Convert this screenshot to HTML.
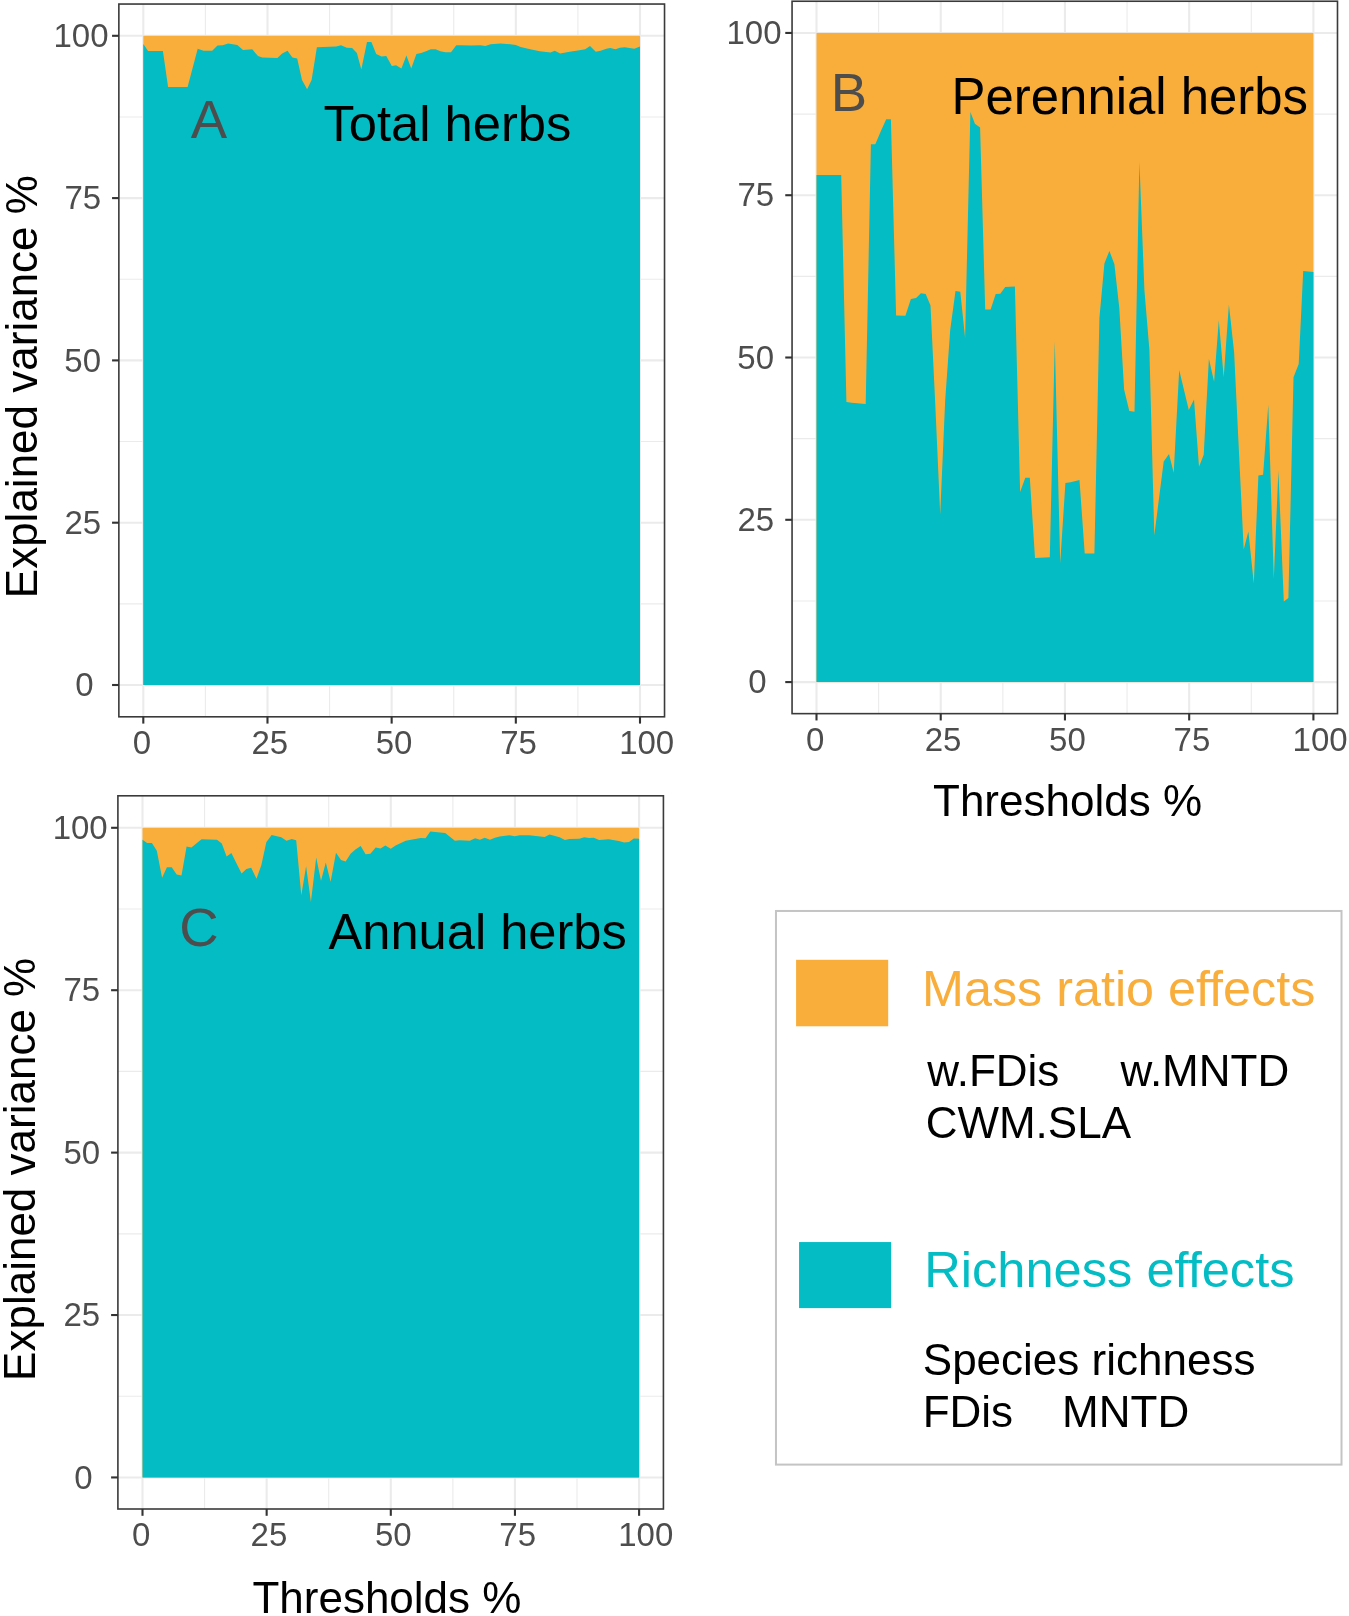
<!DOCTYPE html>
<html><head><meta charset="utf-8"><style>
html,body{margin:0;padding:0;background:#fff;width:1349px;height:1616px;overflow:hidden}
svg{display:block;will-change:transform}
text{font-family:"Liberation Sans",sans-serif}
.tk{font-size:33px;fill:#4D4D4D}
.lt{fill:#4D4D4D}
.lb{fill:#000}
.ti{font-size:44px;fill:#000}

.ls{font-size:44px;fill:#000}
</style></head><body>
<svg width="1349" height="1616" viewBox="0 0 1349 1616">
<rect width="1349" height="1616" fill="#fff"/>
<line x1="118.86" x2="664.53" y1="603.85" y2="603.85" stroke="#EBEBEB" stroke-width="1.1"/>
<line y1="4.04" y2="716.8" x1="205.39" x2="205.39" stroke="#EBEBEB" stroke-width="1.1"/>
<line x1="118.86" x2="664.53" y1="441.55" y2="441.55" stroke="#EBEBEB" stroke-width="1.1"/>
<line y1="4.04" y2="716.8" x1="329.56" x2="329.56" stroke="#EBEBEB" stroke-width="1.1"/>
<line x1="118.86" x2="664.53" y1="279.25" y2="279.25" stroke="#EBEBEB" stroke-width="1.1"/>
<line y1="4.04" y2="716.8" x1="453.74" x2="453.74" stroke="#EBEBEB" stroke-width="1.1"/>
<line x1="118.86" x2="664.53" y1="116.95" y2="116.95" stroke="#EBEBEB" stroke-width="1.1"/>
<line y1="4.04" y2="716.8" x1="577.91" x2="577.91" stroke="#EBEBEB" stroke-width="1.1"/>
<line x1="118.86" x2="664.53" y1="685" y2="685" stroke="#EBEBEB" stroke-width="2.1"/>
<line y1="4.04" y2="716.8" x1="143.3" x2="143.3" stroke="#EBEBEB" stroke-width="2.1"/>
<line x1="118.86" x2="664.53" y1="522.7" y2="522.7" stroke="#EBEBEB" stroke-width="2.1"/>
<line y1="4.04" y2="716.8" x1="267.48" x2="267.48" stroke="#EBEBEB" stroke-width="2.1"/>
<line x1="118.86" x2="664.53" y1="360.4" y2="360.4" stroke="#EBEBEB" stroke-width="2.1"/>
<line y1="4.04" y2="716.8" x1="391.65" x2="391.65" stroke="#EBEBEB" stroke-width="2.1"/>
<line x1="118.86" x2="664.53" y1="198.1" y2="198.1" stroke="#EBEBEB" stroke-width="2.1"/>
<line y1="4.04" y2="716.8" x1="515.83" x2="515.83" stroke="#EBEBEB" stroke-width="2.1"/>
<line x1="118.86" x2="664.53" y1="35.8" y2="35.8" stroke="#EBEBEB" stroke-width="2.1"/>
<line y1="4.04" y2="716.8" x1="640" x2="640" stroke="#EBEBEB" stroke-width="2.1"/>
<rect x="143.3" y="35.8" width="496.7" height="649.2" fill="#F9AE3C"/>
<path d="M143.3,44 L148.1,51 L162.9,51 L168.1,86.9 L187.6,86.9 L197.7,48.8 L203.5,50.7 L212.2,50.7 L217.5,45.4 L222.8,45.2 L228.1,43.5 L237.3,44.9 L243,50 L252.2,49.3 L258,56 L262.3,57.5 L277.4,57.9 L282.2,53.6 L287.5,50.7 L292.4,57.5 L297.2,58.4 L302,80.1 L307.1,89.3 L311.6,80.1 L316.9,47.3 L336.2,46.6 L341,45.2 L346.8,47.8 L352.1,48.1 L356.9,53.1 L361.3,69.5 L367,42 L371.4,42 L376.2,54.1 L381.5,56.5 L386.3,56 L391.8,66.1 L396.1,65.2 L401.4,68.5 L406.4,55.5 L411.2,68.5 L416.4,54.1 L421.2,53.1 L426,51.2 L430.8,49.3 L435.6,49.3 L440.4,51.2 L445.3,52.2 L451,52.2 L456.3,45.2 L461.2,45.2 L470.8,45.6 L480.4,45.2 L485.3,45.9 L490.6,44.3 L500.7,43.5 L510.3,44.3 L515.8,44.9 L520.6,46.9 L530.2,49.3 L539.9,51.2 L550.5,52.6 L554.8,50.7 L560.1,53.6 L569.7,51.7 L579.4,50.2 L585.2,49.3 L590,45.9 L595.8,51.7 L600.6,50.7 L606.4,48.8 L610.2,48.1 L615.5,49.3 L619.9,47.8 L624.7,47.2 L629.5,48.1 L634.3,48.8 L640,46.4 L640,685 L143.3,685 Z" fill="#03BCC4"/>
<rect x="118.86" y="4.04" width="545.67" height="712.76" fill="none" stroke="#3A3A3A" stroke-width="1.6"/>
<line x1="112.06" x2="118.86" y1="685" y2="685" stroke="#333333" stroke-width="2.1"/>
<line y1="716.8" y2="723.6" x1="143.3" x2="143.3" stroke="#333333" stroke-width="2.1"/>
<line x1="112.06" x2="118.86" y1="522.7" y2="522.7" stroke="#333333" stroke-width="2.1"/>
<line y1="716.8" y2="723.6" x1="267.48" x2="267.48" stroke="#333333" stroke-width="2.1"/>
<line x1="112.06" x2="118.86" y1="360.4" y2="360.4" stroke="#333333" stroke-width="2.1"/>
<line y1="716.8" y2="723.6" x1="391.65" x2="391.65" stroke="#333333" stroke-width="2.1"/>
<line x1="112.06" x2="118.86" y1="198.1" y2="198.1" stroke="#333333" stroke-width="2.1"/>
<line y1="716.8" y2="723.6" x1="515.83" x2="515.83" stroke="#333333" stroke-width="2.1"/>
<line x1="112.06" x2="118.86" y1="35.8" y2="35.8" stroke="#333333" stroke-width="2.1"/>
<line y1="716.8" y2="723.6" x1="640" x2="640" stroke="#333333" stroke-width="2.1"/>
<text x="75.14" y="696.2" class="tk">0</text>
<text x="132.82" y="754.1" class="tk">0</text>
<text x="64.43" y="533.9" class="tk">25</text>
<text x="251.39" y="754.1" class="tk">25</text>
<text x="64.33" y="371.6" class="tk">50</text>
<text x="375.78" y="754.1" class="tk">50</text>
<text x="64.43" y="209.3" class="tk">75</text>
<text x="500.22" y="754.1" class="tk">75</text>
<text x="53.53" y="47" class="tk">100</text>
<text x="619.16" y="754.1" class="tk">100</text>
<line x1="792.06" x2="1337.49" y1="600.94" y2="600.94" stroke="#EBEBEB" stroke-width="1.1"/>
<line y1="1.24" y2="713.64" x1="878.61" x2="878.61" stroke="#EBEBEB" stroke-width="1.1"/>
<line x1="792.06" x2="1337.49" y1="438.65" y2="438.65" stroke="#EBEBEB" stroke-width="1.1"/>
<line y1="1.24" y2="713.64" x1="1002.84" x2="1002.84" stroke="#EBEBEB" stroke-width="1.1"/>
<line x1="792.06" x2="1337.49" y1="276.37" y2="276.37" stroke="#EBEBEB" stroke-width="1.1"/>
<line y1="1.24" y2="713.64" x1="1127.06" x2="1127.06" stroke="#EBEBEB" stroke-width="1.1"/>
<line x1="792.06" x2="1337.49" y1="114.08" y2="114.08" stroke="#EBEBEB" stroke-width="1.1"/>
<line y1="1.24" y2="713.64" x1="1251.29" x2="1251.29" stroke="#EBEBEB" stroke-width="1.1"/>
<line x1="792.06" x2="1337.49" y1="682.08" y2="682.08" stroke="#EBEBEB" stroke-width="2.1"/>
<line y1="1.24" y2="713.64" x1="816.5" x2="816.5" stroke="#EBEBEB" stroke-width="2.1"/>
<line x1="792.06" x2="1337.49" y1="519.8" y2="519.8" stroke="#EBEBEB" stroke-width="2.1"/>
<line y1="1.24" y2="713.64" x1="940.73" x2="940.73" stroke="#EBEBEB" stroke-width="2.1"/>
<line x1="792.06" x2="1337.49" y1="357.51" y2="357.51" stroke="#EBEBEB" stroke-width="2.1"/>
<line y1="1.24" y2="713.64" x1="1064.95" x2="1064.95" stroke="#EBEBEB" stroke-width="2.1"/>
<line x1="792.06" x2="1337.49" y1="195.22" y2="195.22" stroke="#EBEBEB" stroke-width="2.1"/>
<line y1="1.24" y2="713.64" x1="1189.18" x2="1189.18" stroke="#EBEBEB" stroke-width="2.1"/>
<line x1="792.06" x2="1337.49" y1="32.94" y2="32.94" stroke="#EBEBEB" stroke-width="2.1"/>
<line y1="1.24" y2="713.64" x1="1313.4" x2="1313.4" stroke="#EBEBEB" stroke-width="2.1"/>
<rect x="816.5" y="32.94" width="496.9" height="649.14" fill="#F9AE3C"/>
<path d="M816.5,175 L841.2,175 L846.4,402 L851.6,402.8 L865.7,404 L870.9,144.3 L875.3,144.3 L880.9,131 L886.2,119.3 L890.9,119.3 L896.1,315.6 L905.4,315.8 L910.9,298.9 L916.1,298.1 L920.9,293.3 L925.7,294.1 L930.5,305.4 L935.3,405 L940.2,514.4 L945.2,400 L950.2,330 L955.5,290.9 L960.3,291.7 L965.1,338 L970.4,111.9 L974.9,123.8 L980.1,127.5 L985.2,309.4 L990.6,309.4 L995.7,294.1 L1000.3,293.8 L1005.2,287.1 L1014.9,286.4 L1020.1,491.9 L1025.3,477.8 L1029.8,477.8 L1035,558 L1049.8,557.2 L1054.8,341.4 L1060.2,563.2 L1065.4,483 L1070.6,482.2 L1079.5,480 L1084.7,553.5 L1094.4,553.5 L1099.4,318 L1104.4,263.4 L1109.4,250.9 L1114.4,264.3 L1119.3,308 L1124.1,389.4 L1129.3,411 L1134.5,411.7 L1139.4,161.6 L1144.4,290 L1149.4,350 L1154.3,535.4 L1163.7,461.4 L1169,454 L1173.7,472.7 L1179.2,369.9 L1188.8,410 L1194,399.6 L1199,466.7 L1203.7,454.7 L1208.9,358.8 L1214.1,381.8 L1218.8,320.2 L1223.7,377.3 L1228.9,304.6 L1234.1,352.1 L1243.7,549.4 L1248.4,531.4 L1253.8,583.4 L1258.4,475.4 L1263.1,474.7 L1268.3,404.8 L1273.8,578.8 L1278.4,470.7 L1283.8,601.5 L1288.4,598.1 L1293.5,377.3 L1298.7,364 L1303.2,271.1 L1313.4,271.9 L1313.4,682.08 L816.5,682.08 Z" fill="#03BCC4"/>
<rect x="792.06" y="1.24" width="545.43" height="712.4" fill="none" stroke="#3A3A3A" stroke-width="1.6"/>
<line x1="785.26" x2="792.06" y1="682.08" y2="682.08" stroke="#333333" stroke-width="2.1"/>
<line y1="713.64" y2="720.44" x1="816.5" x2="816.5" stroke="#333333" stroke-width="2.1"/>
<line x1="785.26" x2="792.06" y1="519.8" y2="519.8" stroke="#333333" stroke-width="2.1"/>
<line y1="713.64" y2="720.44" x1="940.73" x2="940.73" stroke="#333333" stroke-width="2.1"/>
<line x1="785.26" x2="792.06" y1="357.51" y2="357.51" stroke="#333333" stroke-width="2.1"/>
<line y1="713.64" y2="720.44" x1="1064.95" x2="1064.95" stroke="#333333" stroke-width="2.1"/>
<line x1="785.26" x2="792.06" y1="195.22" y2="195.22" stroke="#333333" stroke-width="2.1"/>
<line y1="713.64" y2="720.44" x1="1189.18" x2="1189.18" stroke="#333333" stroke-width="2.1"/>
<line x1="785.26" x2="792.06" y1="32.94" y2="32.94" stroke="#333333" stroke-width="2.1"/>
<line y1="713.64" y2="720.44" x1="1313.4" x2="1313.4" stroke="#333333" stroke-width="2.1"/>
<text x="748.14" y="693.28" class="tk">0</text>
<text x="806.02" y="750.94" class="tk">0</text>
<text x="737.43" y="531" class="tk">25</text>
<text x="924.64" y="750.94" class="tk">25</text>
<text x="737.33" y="368.71" class="tk">50</text>
<text x="1049.08" y="750.94" class="tk">50</text>
<text x="737.43" y="206.42" class="tk">75</text>
<text x="1173.57" y="750.94" class="tk">75</text>
<text x="726.53" y="44.14" class="tk">100</text>
<text x="1292.56" y="750.94" class="tk">100</text>
<line x1="117.9" x2="663.42" y1="1396.24" y2="1396.24" stroke="#EBEBEB" stroke-width="1.1"/>
<line y1="795.8" y2="1509" x1="204.57" x2="204.57" stroke="#EBEBEB" stroke-width="1.1"/>
<line x1="117.9" x2="663.42" y1="1233.83" y2="1233.83" stroke="#EBEBEB" stroke-width="1.1"/>
<line y1="795.8" y2="1509" x1="328.73" x2="328.73" stroke="#EBEBEB" stroke-width="1.1"/>
<line x1="117.9" x2="663.42" y1="1071.41" y2="1071.41" stroke="#EBEBEB" stroke-width="1.1"/>
<line y1="795.8" y2="1509" x1="452.88" x2="452.88" stroke="#EBEBEB" stroke-width="1.1"/>
<line x1="117.9" x2="663.42" y1="909" y2="909" stroke="#EBEBEB" stroke-width="1.1"/>
<line y1="795.8" y2="1509" x1="577.02" x2="577.02" stroke="#EBEBEB" stroke-width="1.1"/>
<line x1="117.9" x2="663.42" y1="1477.44" y2="1477.44" stroke="#EBEBEB" stroke-width="2.1"/>
<line y1="795.8" y2="1509" x1="142.5" x2="142.5" stroke="#EBEBEB" stroke-width="2.1"/>
<line x1="117.9" x2="663.42" y1="1315.03" y2="1315.03" stroke="#EBEBEB" stroke-width="2.1"/>
<line y1="795.8" y2="1509" x1="266.65" x2="266.65" stroke="#EBEBEB" stroke-width="2.1"/>
<line x1="117.9" x2="663.42" y1="1152.62" y2="1152.62" stroke="#EBEBEB" stroke-width="2.1"/>
<line y1="795.8" y2="1509" x1="390.8" x2="390.8" stroke="#EBEBEB" stroke-width="2.1"/>
<line x1="117.9" x2="663.42" y1="990.21" y2="990.21" stroke="#EBEBEB" stroke-width="2.1"/>
<line y1="795.8" y2="1509" x1="514.95" x2="514.95" stroke="#EBEBEB" stroke-width="2.1"/>
<line x1="117.9" x2="663.42" y1="827.8" y2="827.8" stroke="#EBEBEB" stroke-width="2.1"/>
<line y1="795.8" y2="1509" x1="639.1" x2="639.1" stroke="#EBEBEB" stroke-width="2.1"/>
<rect x="142.5" y="827.8" width="496.6" height="649.64" fill="#F9AE3C"/>
<path d="M142.5,839.8 L147.1,842.9 L151.9,842.9 L156.8,850.8 L162.1,877.8 L166.9,867.2 L171.7,867.2 L176.7,874.4 L181.5,875.4 L186.6,846.5 L191.4,847.5 L196.3,843.6 L201.6,839.3 L217,839.8 L221.8,843.6 L226.6,856.6 L231.4,853 L236.3,862.9 L241.6,873.5 L246.4,869.1 L251.2,867.7 L256.5,878.8 L261.3,865.3 L266.3,842.2 L271.6,834.9 L281.2,837.2 L286.5,840.7 L291.8,839.1 L296.2,840.2 L301.3,895.2 L306.1,866.3 L310.9,901.9 L316.2,857.6 L321,880.7 L325.8,862.4 L330.6,881.7 L336,852.8 L341,860 L345.6,861.4 L350.6,853.7 L355.4,849.4 L360.7,846 L365.6,854.2 L370.4,853.7 L375.7,847.5 L380.5,848.4 L385.3,845.5 L390.8,848.7 L395.6,845.5 L405.7,840.7 L411,839.8 L420.7,838.1 L425.5,838.3 L430.3,831.4 L445.2,833 L454.9,840.7 L459.7,840.2 L469.8,840.7 L475.1,838.3 L479.9,839.8 L484.7,837.8 L490,839.8 L494.9,837.8 L499.7,836.6 L509.3,835.2 L514.8,836.2 L519.6,835.2 L529.2,835.2 L544.7,836.9 L549.5,834.6 L559.6,837.3 L564.9,840 L569.2,839.1 L579.3,838.8 L584.2,837.3 L589,838.1 L593.8,837.8 L599.1,840 L608.7,839.3 L618.9,841 L624.2,842.6 L629,842 L633.8,838.5 L639.1,838.8 L639.1,1477.44 L142.5,1477.44 Z" fill="#03BCC4"/>
<rect x="117.9" y="795.8" width="545.52" height="713.2" fill="none" stroke="#3A3A3A" stroke-width="1.6"/>
<line x1="111.1" x2="117.9" y1="1477.44" y2="1477.44" stroke="#333333" stroke-width="2.1"/>
<line y1="1509" y2="1515.8" x1="142.5" x2="142.5" stroke="#333333" stroke-width="2.1"/>
<line x1="111.1" x2="117.9" y1="1315.03" y2="1315.03" stroke="#333333" stroke-width="2.1"/>
<line y1="1509" y2="1515.8" x1="266.65" x2="266.65" stroke="#333333" stroke-width="2.1"/>
<line x1="111.1" x2="117.9" y1="1152.62" y2="1152.62" stroke="#333333" stroke-width="2.1"/>
<line y1="1509" y2="1515.8" x1="390.8" x2="390.8" stroke="#333333" stroke-width="2.1"/>
<line x1="111.1" x2="117.9" y1="990.21" y2="990.21" stroke="#333333" stroke-width="2.1"/>
<line y1="1509" y2="1515.8" x1="514.95" x2="514.95" stroke="#333333" stroke-width="2.1"/>
<line x1="111.1" x2="117.9" y1="827.8" y2="827.8" stroke="#333333" stroke-width="2.1"/>
<line y1="1509" y2="1515.8" x1="639.1" x2="639.1" stroke="#333333" stroke-width="2.1"/>
<text x="74.24" y="1488.64" class="tk">0</text>
<text x="132.02" y="1546.3" class="tk">0</text>
<text x="63.53" y="1326.23" class="tk">25</text>
<text x="250.56" y="1546.3" class="tk">25</text>
<text x="63.43" y="1163.82" class="tk">50</text>
<text x="374.93" y="1546.3" class="tk">50</text>
<text x="63.53" y="1001.41" class="tk">75</text>
<text x="499.34" y="1546.3" class="tk">75</text>
<text x="52.63" y="839" class="tk">100</text>
<text x="618.26" y="1546.3" class="tk">100</text>
<text x="190.79" y="138.35" class="lt" style="font-size:54.5px" >A</text>
<text x="323.46" y="140.8" class="lb" style="font-size:50.7px" >Total herbs</text>
<text x="830.83" y="110.7" class="lt" style="font-size:54.5px" >B</text>
<text x="951.62" y="113.5" class="lb" style="font-size:50.9px" >Perennial herbs</text>
<text x="179.33" y="945.9" class="lt" style="font-size:54.5px" >C</text>
<text x="328.6" y="948.5" class="lb" style="font-size:50.6px" >Annual herbs</text>
<text transform="translate(37,598.21) rotate(-90)" class="ti">Explained variance %</text>
<text transform="translate(34.9,1380.91) rotate(-90)" class="ti">Explained variance %</text>
<text x="933.01" y="815.6" class="ti" style="font-size:44px" >Thresholds %</text>
<text x="252.41" y="1612.6" class="ti" style="font-size:44px" >Thresholds %</text>
<rect x="775.97" y="910.97" width="565.53" height="553.63" fill="none" stroke="#C4C4C4" stroke-width="2"/>
<rect x="796.08" y="959.8" width="92.12" height="66.5" fill="#F9AE3C"/>
<rect x="799.07" y="1242.06" width="92.03" height="66.04" fill="#03BCC4"/>
<text x="922.07" y="1006" class="lg" style="font-size:50.3px" fill="#F9AE3C">Mass ratio effects</text>
<text x="927.36" y="1085.5" class="ls" style="font-size:44px" >w.FDis</text>
<text x="1120.56" y="1085.5" class="ls" style="font-size:44px" >w.MNTD</text>
<text x="925.67" y="1138.4" class="ls" style="font-size:44px" >CWM.SLA</text>
<text x="924.25" y="1287.4" class="lg" style="font-size:50.6px" fill="#03BCC4">Richness effects</text>
<text x="922.8" y="1374.9" class="ls" style="font-size:44px" >Species richness</text>
<text x="922.69" y="1427.4" class="ls" style="font-size:44px" >FDis</text>
<text x="1062.09" y="1427.4" class="ls" style="font-size:44px" >MNTD</text>
</svg>
</body></html>
